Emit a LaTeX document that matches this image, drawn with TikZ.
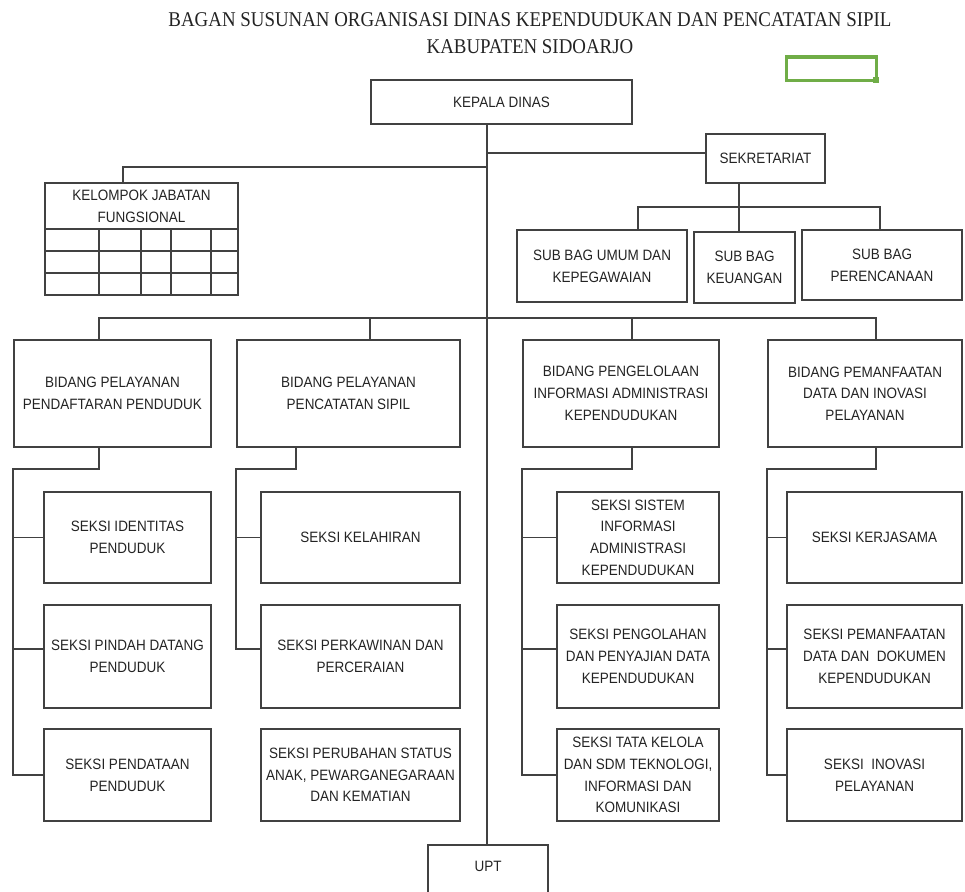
\documentclass[tikz,border=0pt]{standalone}
\usepackage{fontspec}
\setmainfont{Liberation Sans}
\newfontfamily\boxfont{Liberation Sans}[FakeStretch=0.9]
\newfontfamily\titlefont{Liberation Serif}[FakeStretch=0.9]
\definecolor{linec}{RGB}{65,65,65}
\definecolor{txtc}{RGB}{35,35,35}
\definecolor{selgreen}{RGB}{112,173,71}
\begin{document}
\begin{tikzpicture}[x=1pt,y=-1pt,
  box/.style={draw=linec, line width=1.6pt, align=center, inner sep=0pt, text=txtc,
    font=\boxfont\fontsize{15}{21.7}\selectfont},
  conn/.style={draw=linec, line width=1.6pt},
  r1/.style={minimum height=91},
  r2/.style={minimum height=103},
  r3/.style={minimum height=92}]
\useasboundingbox (0,0) rectangle (965,891);

% title
\node[font=\titlefont\fontsize{21}{27}\selectfont, text=txtc, align=center] (title) at (530,33.5)
  {BAGAN SUSUNAN ORGANISASI DINAS KEPENDUDUKAN DAN PENCATATAN SIPIL\\KABUPATEN SIDOARJO};

% selection rectangle
\draw[selgreen, line width=3pt] (786,57) rectangle (876,80);
\fill[selgreen] (873,77) rectangle (879,83);

% top level
\node[box, minimum width=261, minimum height=44] (kd) at (501.5,102) {KEPALA DINAS};
\node[box, minimum width=119, minimum height=49] (sek) at (765.5,158.5) {SEKRETARIAT};
\node[box, minimum width=193, minimum height=46] (kjf) at (141.5,206) {KELOMPOK JABATAN\\FUNGSIONAL};
\draw[conn] (45,229) rectangle (238,295);
\foreach \yy in {251,273} \draw[conn] (45,\yy) -- (238,\yy);
\foreach \xx in {99,141,171,211} \draw[conn] (\xx,229) -- (\xx,295);

\node[box, minimum width=170, minimum height=72] (sbu) at (602,266) {SUB BAG UMUM DAN\\KEPEGAWAIAN};
\node[box, minimum width=101, minimum height=71] (sbk) at (744.5,267.5) {SUB BAG\\KEUANGAN};
\node[box, minimum width=160, minimum height=70] (sbp) at (882,265) {SUB BAG\\PERENCANAAN};

% bidang
\node[box, minimum width=197, minimum height=107] (b1) at (112.5,393.5) {BIDANG PELAYANAN\\PENDAFTARAN PENDUDUK};
\node[box, minimum width=223, minimum height=107] (b2) at (348.5,393.5) {BIDANG PELAYANAN\\PENCATATAN SIPIL};
\node[box, minimum width=196, minimum height=107] (b3) at (621,393.5) {BIDANG PENGELOLAAN\\INFORMASI ADMINISTRASI\\KEPENDUDUKAN};
\node[box, minimum width=194, minimum height=107] (b4) at (865,393.5) {BIDANG PEMANFAATAN\\DATA DAN INOVASI\\PELAYANAN};

% seksi column 1
\node[box, r1, minimum width=167] (s11) at (127.5,537.5) {SEKSI IDENTITAS\\PENDUDUK};
\node[box, r2, minimum width=167] (s12) at (127.5,656.5) {SEKSI PINDAH DATANG\\PENDUDUK};
\node[box, r3, minimum width=167] (s13) at (127.5,775) {SEKSI PENDATAAN\\PENDUDUK};
% column 2
\node[box, r1, minimum width=199] (s21) at (360.5,537.5) {SEKSI KELAHIRAN};
\node[box, r2, minimum width=199] (s22) at (360.5,656.5) {SEKSI PERKAWINAN DAN\\PERCERAIAN};
\node[box, r3, minimum width=199] (s23) at (360.5,775) {SEKSI PERUBAHAN STATUS\\ANAK, PEWARGANEGARAAN\\DAN KEMATIAN};
% column 3
\node[box, r1, minimum width=162] (s31) at (638,537.5) {SEKSI SISTEM\\INFORMASI\\ADMINISTRASI\\KEPENDUDUKAN};
\node[box, r2, minimum width=162] (s32) at (638,656.5) {SEKSI PENGOLAHAN\\DAN PENYAJIAN DATA\\KEPENDUDUKAN};
\node[box, r3, minimum width=162] (s33) at (638,775) {SEKSI TATA KELOLA\\DAN SDM TEKNOLOGI,\\INFORMASI DAN\\KOMUNIKASI};
% column 4
\node[box, r1, minimum width=175] (s41) at (874.5,537.5) {SEKSI KERJASAMA};
\node[box, r2, minimum width=175] (s42) at (874.5,656.5) {SEKSI PEMANFAATAN\\DATA DAN\ \ DOKUMEN\\KEPENDUDUKAN};
\node[box, r3, minimum width=175] (s43) at (874.5,775) {SEKSI\ \ INOVASI\\PELAYANAN};

% UPT (bottom edge beyond the picture)
\node[box, anchor=north, minimum width=120, text height=27pt, text depth=32pt] (upt) at (488,844) {UPT};

% helper coordinates
\coordinate (tr) at (487,0);
\coordinate (ysek) at (0,153);
\coordinate (ykjf) at (0,167);
\coordinate (xkjf) at (123,0);
\coordinate (xsek) at (739,0);
\coordinate (ysb) at (0,207);
\coordinate (xsbu) at (638,0);
\coordinate (xsbp) at (880,0);
\coordinate (yb) at (0,318);
\coordinate (xb1) at (99,0);
\coordinate (xb2) at (370,0);
\coordinate (xb3) at (632,0);
\coordinate (xb4) at (876,0);
\coordinate (d2) at (296,0);
\coordinate (yr) at (0,469);
\coordinate (ym) at (0,649);

% trunk and upper connectors
\draw[conn] (kd.south -| tr) -- (upt.north -| tr);
\draw[conn] (tr |- ysek) -- (sek.west |- ysek);
\draw[conn] (tr |- ykjf) -| (kjf.north -| xkjf);
\draw[conn] (sek.south -| xsek) -- (sbk.north -| xsek);
\draw[conn] (sbu.north -| xsbu) |- (xsbp |- ysb) -- (sbp.north -| xsbp);

% bidang bar
\draw[conn] (b1.north -| xb1) |- (xb4 |- yb) -- (b4.north -| xb4);
\draw[conn] (b2.north -| xb2) -- (xb2 |- yb);
\draw[conn] (b3.north -| xb3) -- (xb3 |- yb);

% seksi rails
\draw[conn] (b1.south -| xb1) -- (xb1 |- yr) -- (b1.west |- yr) -- (b1.west |- s13.west) -- (s13.west);
\draw[conn] (s11.west) -- (b1.west |- s11.west);
\draw[conn] (s12.west |- ym) -- (b1.west |- ym);

\draw[conn] (b2.south -| d2) -- (d2 |- yr) -- (b2.west |- yr) -- (b2.west |- ym) -- (s22.west |- ym);
\draw[conn] (s21.west) -- (b2.west |- s21.west);

\draw[conn] (b3.south -| xb3) -- (xb3 |- yr) -- (b3.west |- yr) -- (b3.west |- s33.west) -- (s33.west);
\draw[conn] (s31.west) -- (b3.west |- s31.west);
\draw[conn] (s32.west |- ym) -- (b3.west |- ym);

\draw[conn] (b4.south -| xb4) -- (xb4 |- yr) -- (b4.west |- yr) -- (b4.west |- s43.west) -- (s43.west);
\draw[conn] (s41.west) -- (b4.west |- s41.west);
\draw[conn] (s42.west |- ym) -- (b4.west |- ym);
\end{tikzpicture}
\end{document}
